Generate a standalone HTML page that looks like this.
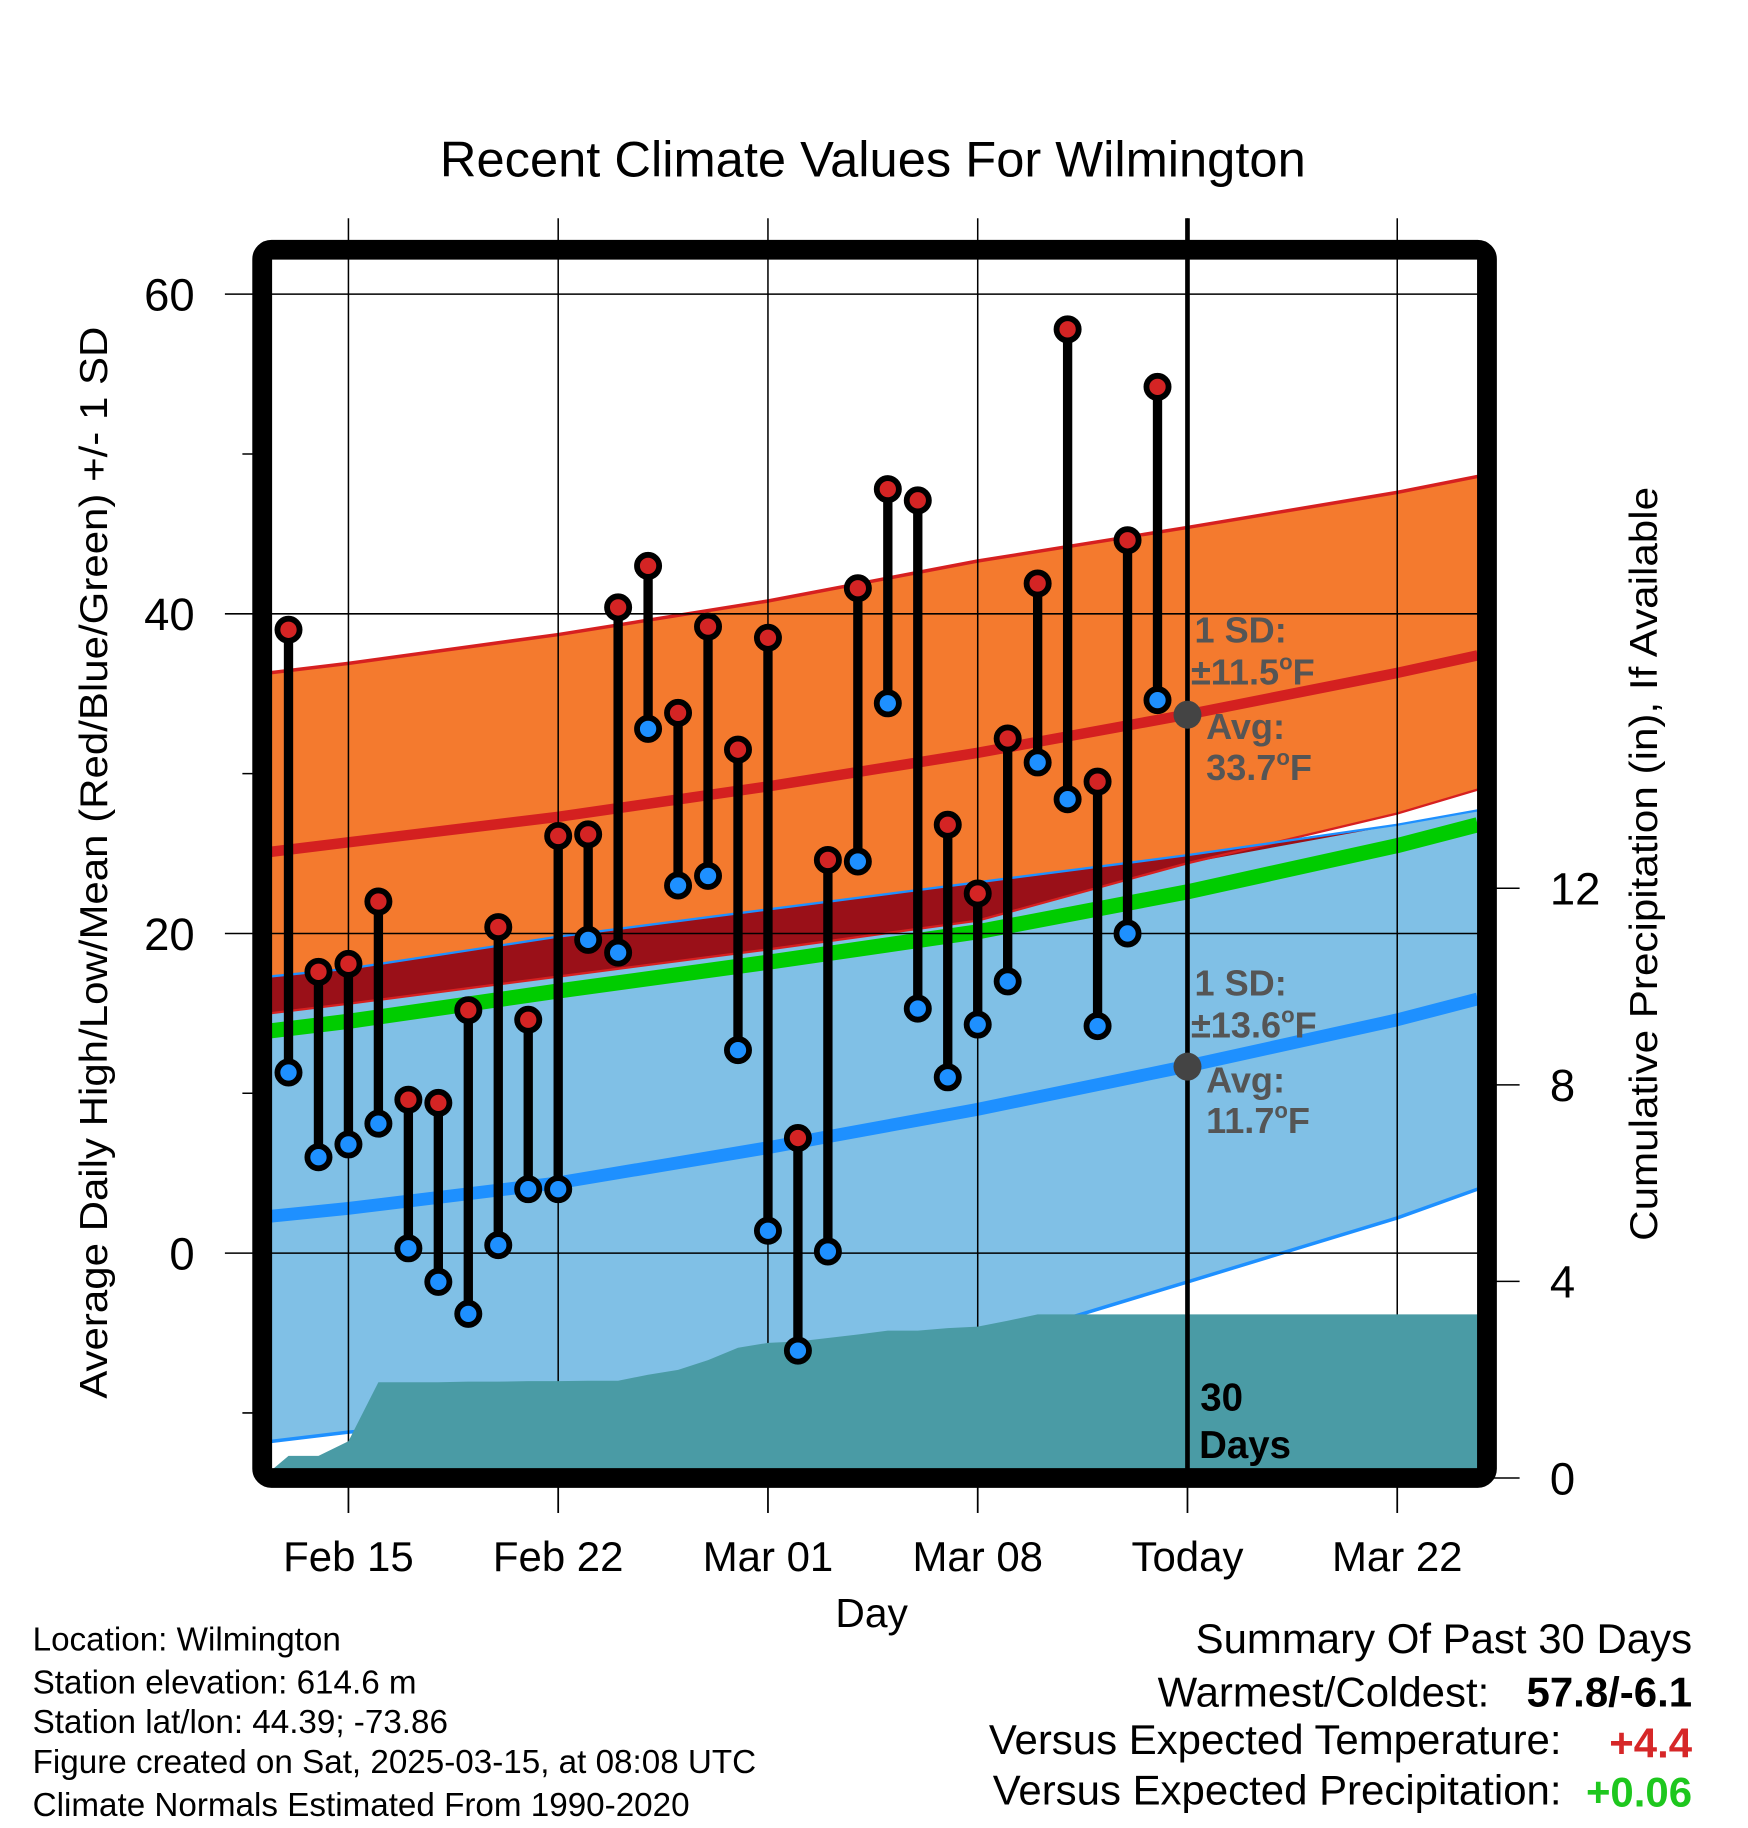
<!DOCTYPE html>
<html><head><meta charset="utf-8"><style>
html,body{margin:0;padding:0;background:#fff}
svg{display:block}
text{font-family:"Liberation Sans",Arial,sans-serif}
</style></head><body>
<svg id="chart" width="1748" height="1828" viewBox="0 0 1500 1568" xmlns="http://www.w3.org/2000/svg">
<g id="bands"></g><g id="lines"></g><g id="grid"></g><g id="precip"></g><g id="marks"></g>
<rect x="225" y="214" width="1051" height="1054" rx="8" fill="none" stroke="#000" stroke-width="17"/>
<g id="axes"></g>
<text x="749" y="151" font-size="43" text-anchor="middle" textLength="743" lengthAdjust="spacingAndGlyphs">Recent Climate Values For Wilmington</text>
<text transform="translate(92,740) rotate(-90)" font-size="33" text-anchor="middle" textLength="920" lengthAdjust="spacingAndGlyphs">Average Daily High/Low/Mean (Red/Blue/Green) +/- 1 SD</text>
<text transform="translate(1422,741) rotate(-90)" font-size="33" text-anchor="middle" textLength="647" lengthAdjust="spacingAndGlyphs">Cumulative Precipitation (in), If Available</text>
<text x="748" y="1396" font-size="35" text-anchor="middle">Day</text>
<g font-size="31" font-weight="bold" fill="#555">
<text x="1025" y="551">1 SD:</text><text x="1022" y="587">±11.5<tspan font-size="19" dy="-13">o</tspan><tspan dy="13">F</tspan></text>
<text x="1035" y="634">Avg:</text><text x="1035" y="669">33.7<tspan font-size="19" dy="-13">o</tspan><tspan dy="13">F</tspan></text>
</g>
<g font-size="31" font-weight="bold" fill="#555">
<text x="1025" y="854">1 SD:</text><text x="1022" y="890">±13.6<tspan font-size="19" dy="-13">o</tspan><tspan dy="13">F</tspan></text>
<text x="1035" y="937">Avg:</text><text x="1035" y="972">11.7<tspan font-size="19" dy="-13">o</tspan><tspan dy="13">F</tspan></text>
</g>
<circle cx="1019" cy="613" r="12" fill="#444"/>
<circle cx="1019" cy="915" r="12" fill="#444"/>
<g font-size="33" font-weight="bold" fill="#000">
<text x="1030" y="1210">30</text><text x="1029" y="1251">Days</text></g>
<g font-size="28.5">
<text x="28" y="1416">Location: Wilmington</text>
<text x="28" y="1453">Station elevation: 614.6 m</text>
<text x="28" y="1487">Station lat/lon: 44.39; -73.86</text>
<text x="28" y="1521">Figure created on Sat, 2025-03-15, at 08:08 UTC</text>
<text x="28" y="1558">Climate Normals Estimated From 1990-2020</text>
</g>
<g font-size="36" text-anchor="end">
<text x="1452" y="1418">Summary Of Past 30 Days</text>
<text x="1278" y="1464">Warmest/Coldest:</text>
<text x="1452" y="1464" font-weight="bold">57.8/-6.1</text>
<text x="1340" y="1505">Versus Expected Temperature:</text>
<text x="1452" y="1508" font-weight="bold" fill="#d62728">+4.4</text>
<text x="1340" y="1548">Versus Expected Precipitation:</text>
<text x="1452" y="1550" font-weight="bold" fill="#1ec71e">+0.06</text>
</g>
</svg>
<script>
const NS="http://www.w3.org/2000/svg";
// data
const dayNums=[-2,-1,0,1,2,3,4,5,6,7,8,9,10,11,12,13,14,15,16,17,18,19,20,21,22,23,24,25,26,27];
const highs=[39.0,17.6,18.1,22.0,9.6,9.4,15.2,20.4,14.6,26.1,26.2,40.4,43.0,33.8,39.2,31.5,38.5,7.2,24.6,41.6,47.8,47.1,26.8,22.5,32.2,41.9,57.8,29.5,44.6,54.2];
const lows=[11.3,6.0,6.8,8.1,0.3,-1.8,-3.8,0.5,4.0,4.0,19.6,18.8,32.8,23.0,23.6,12.7,1.4,-6.1,0.1,24.5,34.4,15.3,11.0,14.3,17.0,30.7,28.4,14.2,20.0,34.6];
const precip=[0.45,0.45,0.75,1.95,1.95,1.95,1.96,1.96,1.97,1.97,1.98,1.98,2.1,2.2,2.4,2.65,2.75,2.78,2.85,2.92,3.0,3.0,3.05,3.08,3.2,3.33,3.33,3.33,3.33,3.33];
const normDays=[-2.64,0,7,14,21,28,35,37.7];
const hiNorm=[25.1,25.7,27.3,29.2,31.3,33.7,36.3,37.4];
const hiUpper=[36.3,36.9,38.7,40.8,43.3,45.4,47.6,48.6];
const hiLower=[15.0,15.6,17.3,19.0,20.8,24.4,27.5,29.0];
const loNorm=[2.3,2.8,4.4,6.6,9.0,11.7,14.6,15.9];
const loUpper=[17.3,17.8,19.8,21.5,23.2,24.9,26.8,27.7];
const loLower=[-11.8,-11.2,-10.2,-8.3,-5.8,-1.8,2.2,4.0];
const meanNorm=[13.9,14.5,16.4,18.2,20.1,22.6,25.5,26.8];
const yTicks=[0,20,40,60];
const yMinor=[-10,10,30,50];
const pTicks=[0,4,8,12];
const xTickDays=[0,7,14,21,28,35];
const xTickLabels=["Feb 15","Feb 22","Mar 01","Mar 08","Today","Mar 22"];

const X=d=>299+d*(180/7);
const Y=v=>1075-v*(274.3/20);
const P=p=>1268-p*(168.7/4);
const L=231,R=1268,T=222,B=1260;
function mk(parent,tag,attrs){const e=document.createElementNS(NS,tag);for(const k in attrs)e.setAttribute(k,attrs[k]);document.getElementById(parent).appendChild(e);return e;}
function clampX(d){return Math.max(L,Math.min(R,X(d)));}
function line(arr){return normDays.map((d,i)=>clampX(d).toFixed(1)+","+Y(arr[i]).toFixed(1)).join(" ");}
function band(up,lo){const a=normDays.map((d,i)=>clampX(d).toFixed(1)+","+Y(up[i]).toFixed(1));const b=normDays.map((d,i)=>clampX(d).toFixed(1)+","+Y(lo[i]).toFixed(1)).reverse();return a.concat(b).join(" ");}

let e;
e=mk("bands","polygon",{points:band(loUpper,loLower),fill:"#80c0e6"});


e=mk("bands","polygon",{points:band(hiUpper,hiLower),fill:"#f47a2e"});


const ovTop=loUpper.map((v,i)=>Math.min(v,hiUpper[i]));
const ovBot=hiLower.map((v,i)=>Math.min(Math.max(v,loLower[i]),ovTop[i]));
e=mk("bands","polygon",{points:band(ovTop,ovBot),fill:"#9a1018"});


e=mk("bands","polyline",{points:line(hiUpper),fill:"none",stroke:"#d62020","stroke-width":3});


e=mk("bands","polyline",{points:line(hiLower),fill:"none",stroke:"#d62020","stroke-width":2});


e=mk("bands","polyline",{points:line(loUpper),fill:"none",stroke:"#1e90ff","stroke-width":2});


e=mk("bands","polyline",{points:line(loLower),fill:"none",stroke:"#1e90ff","stroke-width":3});


e=mk("lines","polyline",{points:line(meanNorm),fill:"none",stroke:"#00cc00","stroke-width":13});


e=mk("lines","polyline",{points:line(hiNorm),fill:"none",stroke:"#d42020","stroke-width":9});


e=mk("lines","polyline",{points:line(loNorm),fill:"none",stroke:"#1e90ff","stroke-width":11});


xTickDays.forEach((d,i)=>{
  const g=mk("grid","line",{x1:X(d),x2:X(d),y1:187,y2:B,stroke:"#000","stroke-width":1.3});
  
  
  const t=mk("axes","line",{x1:X(d),x2:X(d),y1:1276,y2:1298,stroke:"#000","stroke-width":1.5});
  
  
  const lb=mk("axes","text",{x:X(d),y:1348,"font-size":36,"text-anchor":"middle"});
  lb.textContent=xTickLabels[i];
  
  
});
yTicks.forEach(v=>{
  const g=mk("grid","line",{x1:193,x2:R,y1:Y(v),y2:Y(v),stroke:"#000","stroke-width":1.3});
  
  
  const lb=mk("axes","text",{x:167,y:Y(v)+14,"font-size":39,"text-anchor":"end"});
  lb.textContent=v;
  
  
});
yMinor.forEach(v=>{
  const t=mk("axes","line",{x1:208,x2:225,y1:Y(v),y2:Y(v),stroke:"#000","stroke-width":1.3});
  
  
});
pTicks.forEach(p=>{
  const t=mk("axes","line",{x1:1276,x2:1304,y1:P(p),y2:P(p),stroke:"#000","stroke-width":1.3});
  
  
  const lb=mk("axes","text",{x:1330,y:P(p)+14,"font-size":39});
  lb.textContent=p;
  
  
});
let pp=[L+4+","+B, L+4+","+P(0.2)];
dayNums.forEach((d,i)=>pp.push(X(d).toFixed(1)+","+P(precip[i]).toFixed(1)));
pp.push(R+","+P(precip[precip.length-1]).toFixed(1));
pp.push(R+","+B);
e=mk("precip","polygon",{points:pp.join(" "),fill:"#4a9ba5"});


e=mk("precip","line",{x1:X(28),x2:X(28),y1:187,y2:B,stroke:"#000","stroke-width":4});


dayNums.forEach((d,i)=>{
  const x=X(d);
  const s=mk("marks","line",{x1:x,x2:x,y1:Y(highs[i]),y2:Y(lows[i]),stroke:"#000","stroke-width":8});
  
  
  const h=mk("marks","circle",{cx:x,cy:Y(highs[i]),r:9.5,fill:"#d42424",stroke:"#000","stroke-width":5});
  
  
  const l=mk("marks","circle",{cx:x,cy:Y(lows[i]),r:9.5,fill:"#1e90ff",stroke:"#000","stroke-width":5});
  
  
});
</script>
</body></html>
